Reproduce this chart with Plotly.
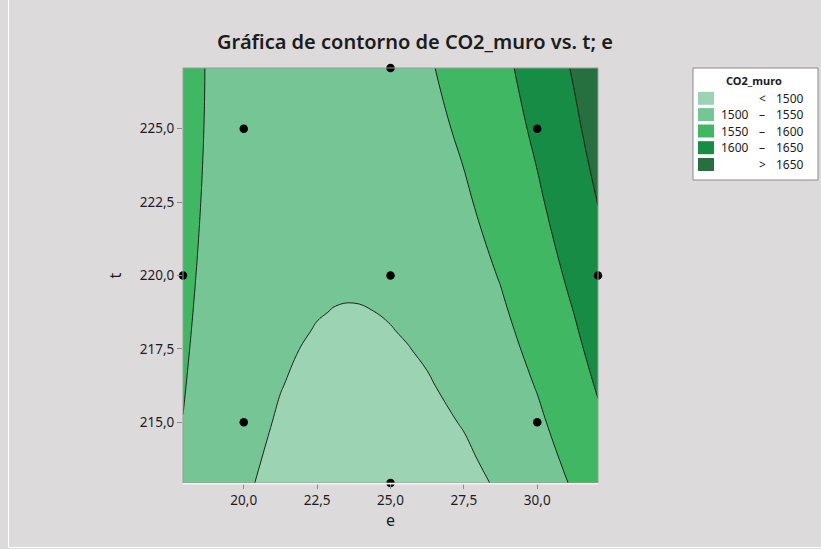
import plotly.graph_objects as go

# ---------------- data ----------------
e_grid = [17.93, 18.75, 20.0, 21.25, 21.875, 22.5, 23.125, 23.75, 24.375, 25.0,
          25.625, 26.25, 27.5, 28.75, 30.0, 31.25, 32.07]
t_grid = [212.93, 213.75, 215.0, 216.25, 217.5, 218.125, 218.75, 219.375, 220.0,
          221.25, 222.5, 223.75, 225.0, 226.25, 227.07]

co2_muro = [
    [1544.39, 1526.97, 1504.95, 1488.44, 1482.25, 1477.43, 1473.98, 1471.91, 1471.22, 1471.90, 1473.96, 1477.39, 1488.37, 1504.86, 1526.85, 1554.33, 1575.35],
    [1546.50, 1529.37, 1507.81, 1491.75, 1485.78, 1481.18, 1477.97, 1476.12, 1475.66, 1476.56, 1478.84, 1482.50, 1493.94, 1510.87, 1533.31, 1561.25, 1582.56],
    [1549.45, 1532.77, 1511.90, 1496.52, 1490.90, 1486.65, 1483.78, 1482.27, 1482.15, 1483.40, 1486.03, 1490.03, 1502.15, 1519.78, 1542.90, 1571.53, 1593.29],
    [1552.07, 1535.85, 1515.66, 1500.97, 1495.69, 1491.78, 1489.26, 1488.10, 1488.32, 1489.91, 1492.88, 1497.22, 1510.04, 1528.35, 1552.16, 1581.47, 1603.69],
    [1554.38, 1538.60, 1519.10, 1505.10, 1500.16, 1496.60, 1494.41, 1493.60, 1494.16, 1496.10, 1499.42, 1504.10, 1517.60, 1536.60, 1561.10, 1591.10, 1613.76],
    [1555.40, 1539.85, 1520.69, 1507.04, 1502.28, 1498.88, 1496.87, 1496.23, 1496.96, 1499.07, 1502.56, 1507.41, 1521.26, 1540.60, 1565.45, 1595.79, 1618.68],
    [1556.35, 1541.02, 1522.21, 1508.90, 1504.31, 1501.08, 1499.24, 1498.77, 1499.68, 1501.96, 1505.62, 1510.65, 1524.84, 1544.52, 1569.71, 1600.40, 1623.51],
    [1557.21, 1542.11, 1523.64, 1510.68, 1506.26, 1503.21, 1501.54, 1501.24, 1502.32, 1504.77, 1508.60, 1513.80, 1528.33, 1548.36, 1573.90, 1604.93, 1628.27],
    [1558.00, 1543.12, 1525.00, 1512.37, 1508.13, 1505.25, 1503.75, 1503.62, 1504.88, 1507.50, 1511.50, 1516.88, 1531.75, 1552.13, 1578.00, 1609.38, 1632.94],
    [1559.32, 1544.90, 1527.46, 1515.52, 1511.62, 1509.08, 1507.93, 1508.15, 1509.74, 1512.71, 1517.06, 1522.77, 1538.34, 1559.40, 1585.96, 1618.02, 1642.04],
    [1560.32, 1546.35, 1529.60, 1518.35, 1514.79, 1512.60, 1511.79, 1512.35, 1514.29, 1517.60, 1522.29, 1528.35, 1544.60, 1566.35, 1593.60, 1626.35, 1650.82],
    [1560.99, 1547.47, 1531.41, 1520.85, 1517.63, 1515.78, 1515.32, 1516.22, 1518.51, 1522.16, 1527.19, 1533.60, 1550.54, 1572.97, 1600.91, 1634.35, 1659.27],
    [1561.34, 1548.27, 1532.90, 1523.02, 1520.15, 1518.65, 1518.53, 1519.77, 1522.40, 1526.40, 1531.78, 1538.53, 1556.15, 1579.28, 1607.90, 1642.03, 1667.40],
    [1561.37, 1548.75, 1534.06, 1524.87, 1522.34, 1521.18, 1521.41, 1523.00, 1525.97, 1530.31, 1536.03, 1543.12, 1561.44, 1585.25, 1614.56, 1649.37, 1675.19],
    [1561.21, 1548.88, 1534.65, 1525.91, 1523.61, 1522.67, 1523.12, 1524.94, 1528.13, 1532.70, 1538.65, 1545.96, 1564.73, 1588.99, 1618.75, 1654.02, 1680.13],
]

# design points
e_pts = [20.0, 30.0, 20.0, 30.0, 17.93, 32.07, 25.0, 25.0, 25.0]
t_pts = [215.0, 215.0, 225.0, 225.0, 220.0, 220.0, 212.93, 227.07, 220.0]

levels = [1500, 1550, 1600, 1650]
band_colors = ["#9BD3B3", "#76C594", "#40B763", "#178C45", "#266F3F"]
legend_left = ["", "1500", "1550", "1600", ""]
legend_mid = ["<", "–", "–", "–", ">"]
legend_right = ["1500", "1550", "1600", "1650", "1650"]

x_ticks = [20.0, 22.5, 25.0, 27.5, 30.0]
y_ticks = [215.0, 217.5, 220.0, 222.5, 225.0]
x_range = [17.93, 32.07]
y_range = [212.93, 227.07]

# ---------------- figure ----------------
FONT = "Noto Sans"
BG = "#DCDADA"
TXT = "#1c1c1c"

zmin, zmax = levels[0] - 50, levels[-1] + 50
cs = []
edges = [zmin] + levels + [zmax]
for i, c in enumerate(band_colors):
    a = (edges[i] - zmin) / (zmax - zmin)
    b = (edges[i + 1] - zmin) / (zmax - zmin)
    cs.append([a, c])
    cs.append([b, c])

fig = go.Figure()
fig.add_trace(go.Contour(
    x=e_grid, y=t_grid, z=co2_muro,
    zmin=zmin, zmax=zmax, zauto=False,
    colorscale=cs, showscale=False,
    contours=dict(start=levels[0], end=levels[-1], size=50, coloring="fill"),
    line=dict(color="#111111", width=0.9, smoothing=1.3),
    hoverinfo="skip",
))
fig.add_trace(go.Scatter(
    x=e_pts, y=t_pts, mode="markers",
    marker=dict(color="black", size=8.5),
    cliponaxis=False, showlegend=False, hoverinfo="skip",
))

L, R, T, B = 183, 598, 68, 483
W, H = 821, 549
pw, ph = R - L, B - T


def px(x):
    return (x - L) / pw


def py(y):
    return (B - y) / ph


shapes = []
annotations = []

shapes.append(dict(type="rect", xref="paper", yref="paper", x0=0, x1=1, y0=0, y1=1,
                   line=dict(color="#9c9c9c", width=1), layer="above"))
shapes.append(dict(type="line", xref="paper", yref="paper", x0=0, x1=1, y0=-0.002, y1=-0.002,
                   line=dict(color="#f4f4f4", width=1.5), layer="above"))
shapes.append(dict(type="line", xref="paper", yref="paper", x0=px(8.5), x1=px(8.5), y0=py(0), y1=py(547.5),
                   line=dict(color="#ffffff", width=1)))
shapes.append(dict(type="line", xref="paper", yref="paper", x0=px(8.5), x1=px(821), y0=py(547.5), y1=py(547.5),
                   line=dict(color="#ffffff", width=1)))

# legend box
lx0, lx1, ly0, ly1 = 693, 818, 68, 180
shapes.append(dict(type="rect", xref="paper", yref="paper", x0=px(lx0), x1=px(lx1), y0=py(ly1), y1=py(ly0),
                   fillcolor="white", line=dict(color="#8a8a8a", width=1)))
annotations.append(dict(text="<b>CO2_muro</b>", xref="paper", yref="paper", x=px(754), y=py(80),
                        xanchor="center", yanchor="middle", showarrow=False,
                        font=dict(family=FONT, size=11, color=TXT)))
row_y = [98.3, 114.6, 131, 147.7, 164.5]
for i, c in enumerate(band_colors):
    yc = row_y[i]
    shapes.append(dict(type="rect", xref="paper", yref="paper", x0=px(698), x1=px(714),
                       y0=py(yc + 6.5), y1=py(yc - 6.5), fillcolor=c, line=dict(width=0)))
    if legend_left[i]:
        annotations.append(dict(text=legend_left[i], xref="paper", yref="paper", x=px(750), y=py(yc),
                                xanchor="right", yanchor="middle", showarrow=False, borderpad=0,
                                font=dict(family=FONT, size=12, color=TXT)))
    annotations.append(dict(text=legend_mid[i], xref="paper", yref="paper", x=px(762), y=py(yc),
                            xanchor="center", yanchor="middle", showarrow=False, borderpad=0,
                            font=dict(family=FONT, size=12, color=TXT)))
    annotations.append(dict(text=legend_right[i], xref="paper", yref="paper", x=px(775), y=py(yc),
                            xanchor="left", yanchor="middle", showarrow=False, borderpad=0,
                            font=dict(family=FONT, size=12, color=TXT)))

axis_common = dict(
    showgrid=False, zeroline=False, showline=False,
    ticks="outside", ticklen=5, tickcolor="#8c8c8c", tickwidth=1,
    tickformat=".1f",
    tickfont=dict(family=FONT, size=13.5, color=TXT),
)

fig.update_layout(
    width=W, height=H,
    margin=dict(l=L, r=W - R, t=T, b=H - B, pad=0),
    paper_bgcolor=BG, plot_bgcolor=BG,
    separators=",.",
    showlegend=False,
    title=dict(text="Gráfica de contorno de CO2_muro vs. t; e",
               x=415 / W, xanchor="center", xref="container",
               y=1 - 41.5 / H, yanchor="middle", yref="container",
               font=dict(family=FONT, size=20, color=TXT, weight=600)),
    xaxis=dict(range=x_range, tickvals=x_ticks, title=dict(text="e", standoff=6,
               font=dict(family=FONT, size=16, color=TXT)), **axis_common),
    yaxis=dict(range=y_range, tickvals=y_ticks, title=dict(text="t", standoff=14,
               font=dict(family=FONT, size=16, color=TXT)), **axis_common),
    shapes=shapes,
    annotations=annotations,
)

fig.write_html("out.html", config={"displayModeBar": False},
               post_script="document.body.style.margin='0px';document.body.style.overflow='hidden';")
